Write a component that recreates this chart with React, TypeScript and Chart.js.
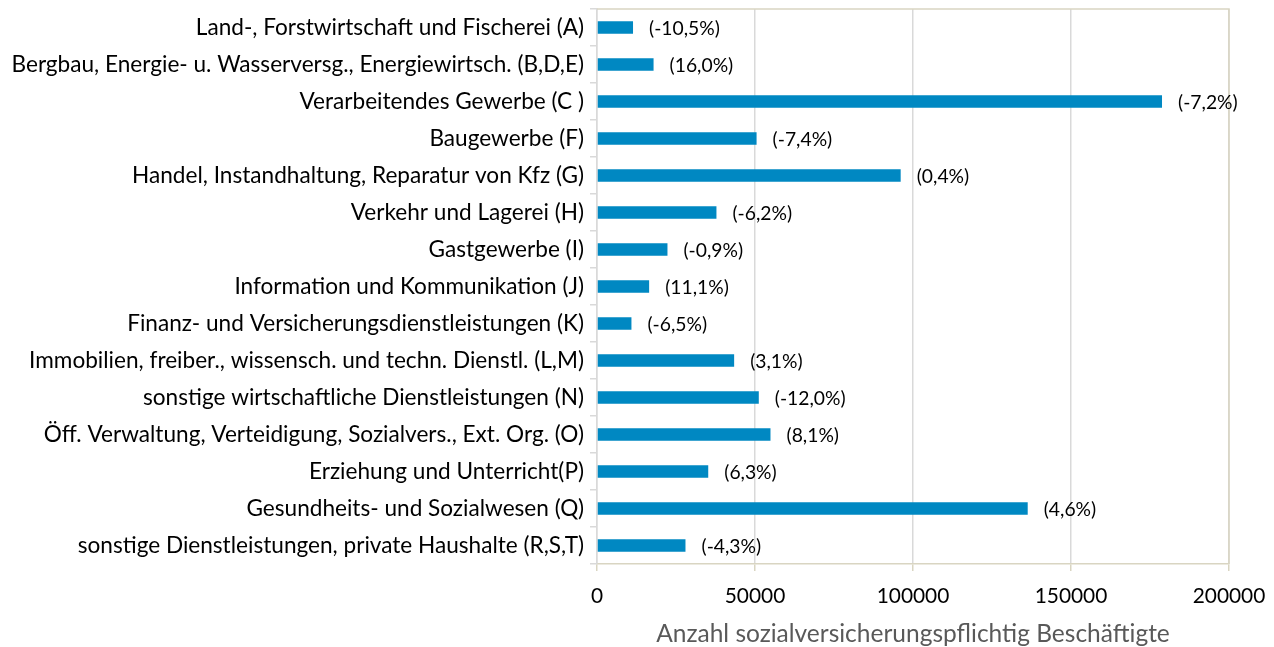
import React, { useEffect, useRef } from "react";
import { Chart, registerables } from "chart.js";

Chart.register(...registerables);

const categories = [
  "Land-, Forstwirtschaft und Fischerei (A)",
  "Bergbau, Energie- u. Wasserversg., Energiewirtsch. (B,D,E)",
  "Verarbeitendes Gewerbe (C )",
  "Baugewerbe (F)",
  "Handel, Instandhaltung, Reparatur von Kfz (G)",
  "Verkehr und Lagerei (H)",
  "Gastgewerbe (I)",
  "Information und Kommunikation (J)",
  "Finanz- und Versicherungsdienstleistungen (K)",
  "Immobilien, freiber., wissensch. und techn. Dienstl. (L,M)",
  "sonstige wirtschaftliche Dienstleistungen (N)",
  "Öff. Verwaltung, Verteidigung, Sozialvers., Ext. Org. (O)",
  "Erziehung und Unterricht(P)",
  "Gesundheits- und Sozialwesen (Q)",
  "sonstige Dienstleistungen, private Haushalte (R,S,T)",
];

const employees = [
  11400, 17900, 178800, 50500, 96100, 37800, 22300, 16500, 10900, 43400, 51200,
  54900, 35200, 136300, 28000,
];

const changePercent = [
  -10.5, 16.0, -7.2, -7.4, 0.4, -6.2, -0.9, 11.1, -6.5, 3.1, -12.0, 8.1, 6.3,
  4.6, -4.3,
];

const xTickValues = [0, 50000, 100000, 150000, 200000];
const xAxisTitle = "Anzahl sozialversicherungspflichtig Beschäftigte";

const FONT = "Lato";
const BAR_COLOR = "#0088c2";
const GRID_COLOR = "#d9d9d9";
const FRAME_COLOR = "#d9d5c2";

const formatChange = (v: number) => "(" + v.toFixed(1).replace(".", ",") + "%)";

const frameAndLabels = {
  id: "frameAndLabels",
  beforeDatasetsDraw(chart: any) {
    const { ctx, chartArea } = chart;
    ctx.save();
    ctx.strokeStyle = FRAME_COLOR;
    ctx.lineWidth = 1.5;
    ctx.beginPath();
    ctx.moveTo(chartArea.left, chartArea.top);
    ctx.lineTo(chartArea.right, chartArea.top);
    ctx.lineTo(chartArea.right, chartArea.bottom);
    ctx.stroke();
    ctx.restore();
  },
  afterDatasetsDraw(chart: any) {
    const { ctx } = chart;
    const meta = chart.getDatasetMeta(0);
    ctx.save();
    ctx.font = `19.3px ${FONT}`;
    ctx.fillStyle = "#000000";
    ctx.textAlign = "left";
    ctx.textBaseline = "middle";
    meta.data.forEach((bar: any, i: number) => {
      ctx.fillText(formatChange(changePercent[i]), bar.x + 16, bar.y + 1);
    });
    ctx.restore();
  },
};

export default function App() {
  const canvasRef = useRef<HTMLCanvasElement | null>(null);

  useEffect(() => {
    if (!canvasRef.current) return;
    const chart = new Chart(canvasRef.current, {
      type: "bar",
      data: {
        labels: categories,
        datasets: [
          {
            data: employees,
            backgroundColor: BAR_COLOR,
            borderWidth: 0,
            categoryPercentage: 1,
            barPercentage: 0.34,
          },
        ],
      },
      options: {
        indexAxis: "y",
        responsive: false,
        animation: false,
        layout: { padding: { top: 9, right: 45, left: 0, bottom: 0 } },
        plugins: {
          legend: { display: false },
          tooltip: { enabled: false },
        },
        scales: {
          x: {
            min: 0,
            max: 200000,
            afterBuildTicks: (scale: any) => {
              scale.ticks = xTickValues.map((v) => ({ value: v }));
            },
            afterFit: (scale: any) => {
              scale.height = 83;
              scale.paddingLeft = 0;
              scale.paddingRight = 0;
            },
            ticks: {
              font: { family: FONT, size: 20.9 },
              color: "#000000",
              padding: 13,
              maxRotation: 0,
              callback: (v: any) => String(v),
            },
            grid: {
              color: GRID_COLOR,
              lineWidth: 1.5,
              tickLength: 7,
              tickColor: FRAME_COLOR,
            },
            border: { display: true, color: FRAME_COLOR, width: 1.5 },
            title: {
              display: true,
              text: xAxisTitle,
              color: "#595959",
              font: { family: FONT, size: 24.5 },
              padding: { top: 0, bottom: -2 },
            },
          },
          y: {
            afterFit: (scale: any) => {
              scale.width = 597;
              scale.paddingTop = 0;
              scale.paddingBottom = 0;
            },
            ticks: {
              font: { family: FONT, size: 22.6 },
              color: "#000000",
              padding: 6,
              autoSkip: false,
            },
            grid: {
              offset: true,
              drawOnChartArea: false,
              drawTicks: true,
              tickLength: 7,
              color: GRID_COLOR,
              lineWidth: 1.5,
            },
            border: { display: true, color: GRID_COLOR, width: 1.5 },
          },
        },
      },
      plugins: [frameAndLabels],
    });
    return () => chart.destroy();
  }, []);

  return (
    <div style={{ position: "fixed", left: 0, top: 0, width: 1274, height: 647, background: "#ffffff" }}>
      <canvas ref={canvasRef} width={1274} height={647} style={{ width: 1274, height: 647, display: "block" }} />
    </div>
  );
}
